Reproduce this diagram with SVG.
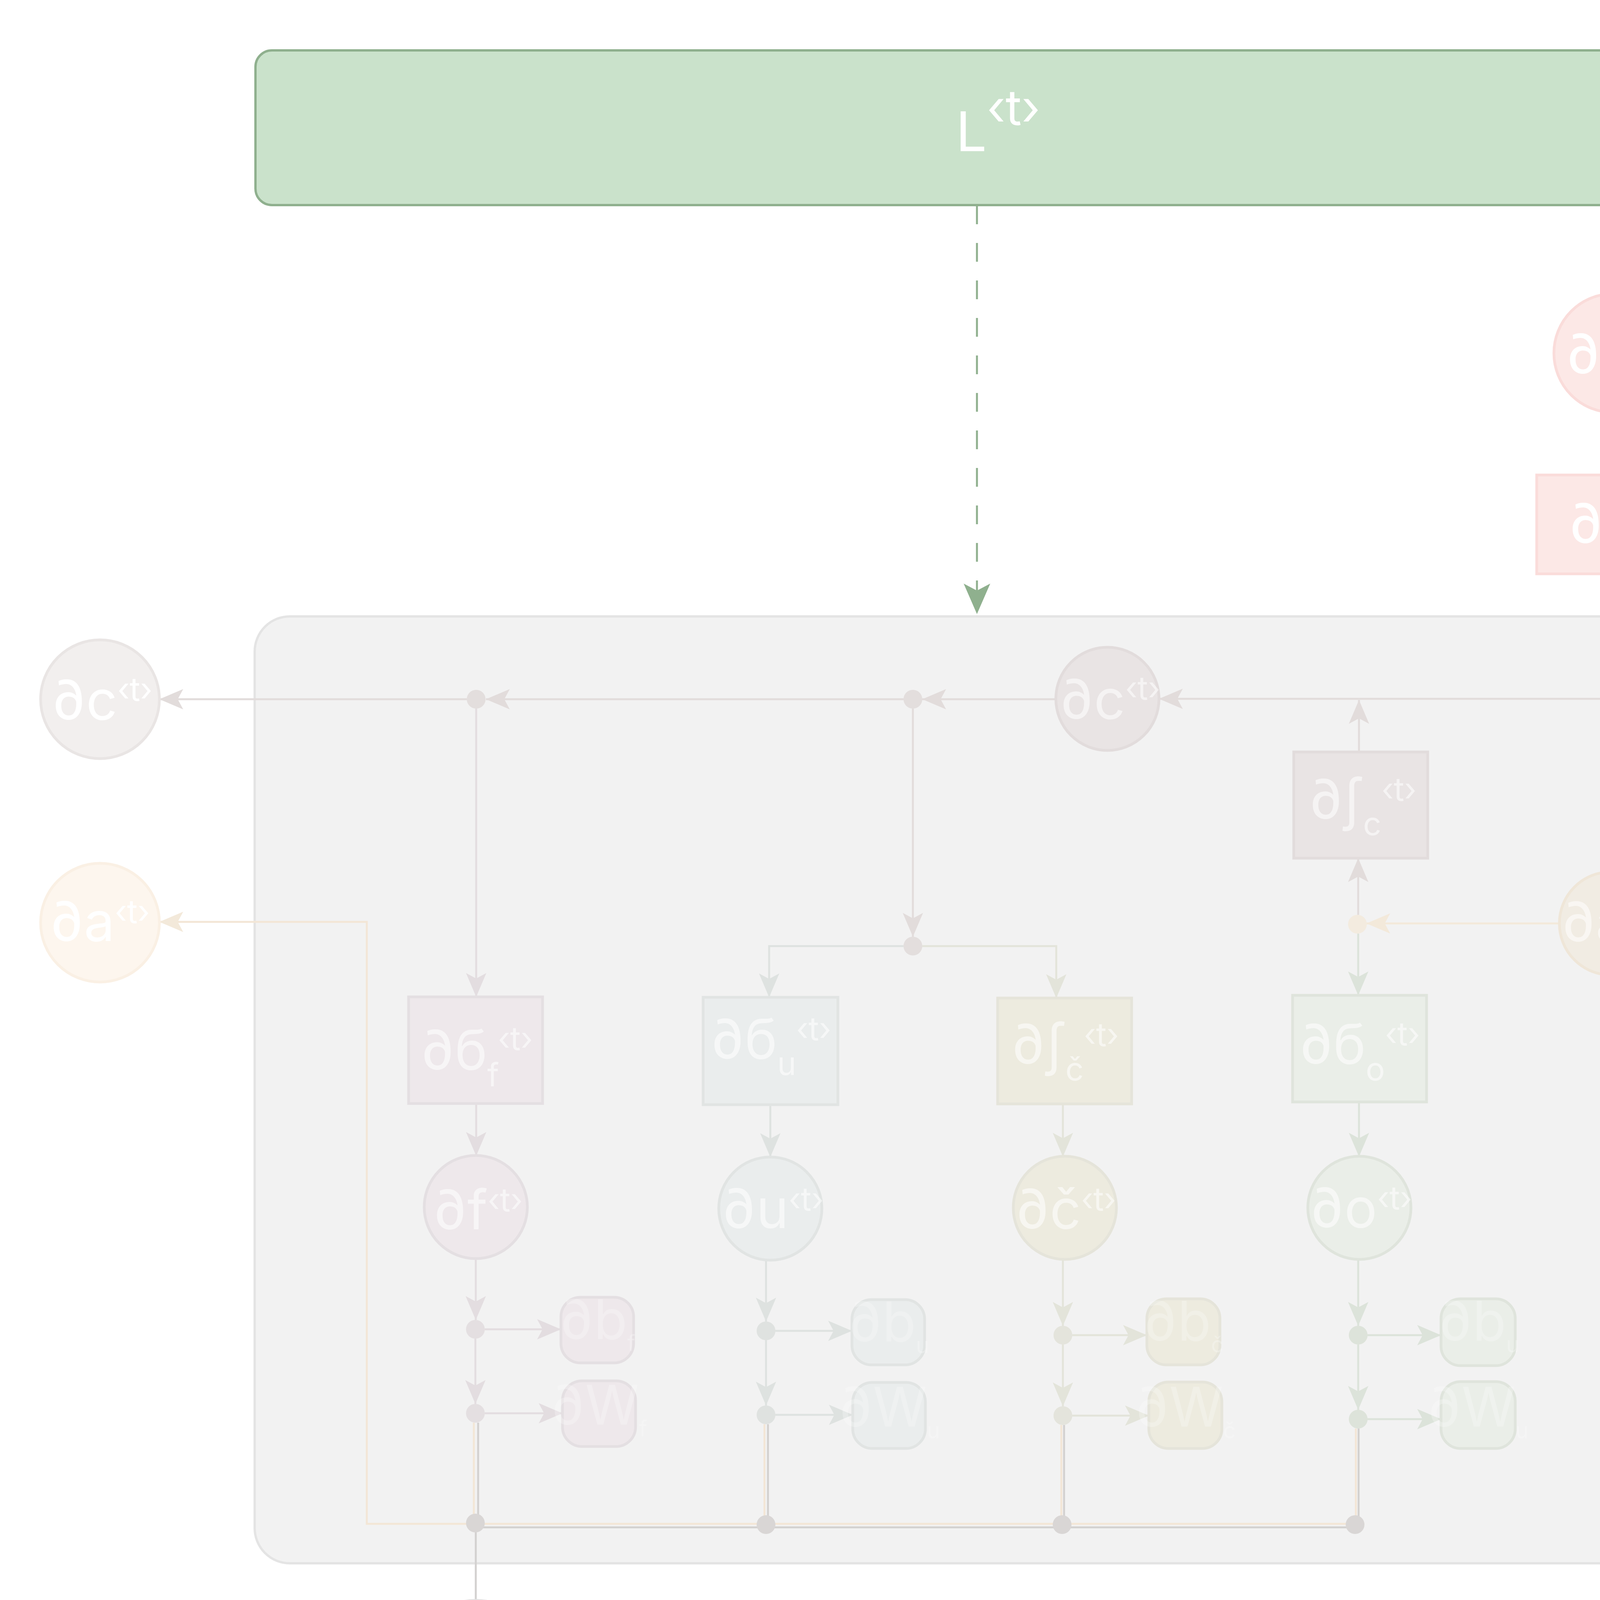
<svg xmlns="http://www.w3.org/2000/svg" width="5401" height="4501" viewBox="0 0 5401 4501">
<style>
.t{font-family:Inter,"Noto Sans","DejaVu Sans",sans-serif;font-size:140px;text-anchor:middle}
.w{fill:#ffffff}
.fi{fill:#ffffff;fill-opacity:.55}
.fs{fill:#ffffff;fill-opacity:.25}
.ln{fill:none;stroke-width:5}
.sup{font-size:82px}
.ss{font-size:56px}
.nd{stroke-width:7}
</style>
<defs>
<marker id="mL" markerUnits="userSpaceOnUse" viewBox="-80 -36 82 72" refX="0" refY="0" markerWidth="82" markerHeight="72" orient="auto"><path d="M0,0 L-78,-34 L-60,0 L-78,34 Z" fill="#8fb08e"/></marker>
<marker id="mC" markerUnits="userSpaceOnUse" viewBox="-64 -28 66 56" refX="0" refY="0" markerWidth="66" markerHeight="56" orient="auto"><path d="M0,0 L-61,-26 L-47,0 L-61,26 Z" fill="#e2dcdb"/></marker>
<marker id="mO" markerUnits="userSpaceOnUse" viewBox="-64 -28 66 56" refX="0" refY="0" markerWidth="66" markerHeight="56" orient="auto"><path d="M0,0 L-61,-26 L-47,0 L-61,26 Z" fill="#f3e9da"/></marker>
<marker id="mP" markerUnits="userSpaceOnUse" viewBox="-64 -28 66 56" refX="0" refY="0" markerWidth="66" markerHeight="56" orient="auto"><path d="M0,0 L-61,-26 L-47,0 L-61,26 Z" fill="#fadcda"/></marker>
<marker id="mF" markerUnits="userSpaceOnUse" viewBox="-64 -28 66 56" refX="0" refY="0" markerWidth="66" markerHeight="56" orient="auto"><path d="M0,0 L-61,-26 L-47,0 L-61,26 Z" fill="#e3dde0"/></marker>
<marker id="mU" markerUnits="userSpaceOnUse" viewBox="-64 -28 66 56" refX="0" refY="0" markerWidth="66" markerHeight="56" orient="auto"><path d="M0,0 L-61,-26 L-47,0 L-61,26 Z" fill="#dee2e0"/></marker>
<marker id="mK" markerUnits="userSpaceOnUse" viewBox="-64 -28 66 56" refX="0" refY="0" markerWidth="66" markerHeight="56" orient="auto"><path d="M0,0 L-61,-26 L-47,0 L-61,26 Z" fill="#e3e4da"/></marker>
<marker id="mG" markerUnits="userSpaceOnUse" viewBox="-64 -28 66 56" refX="0" refY="0" markerWidth="66" markerHeight="56" orient="auto"><path d="M0,0 L-61,-26 L-47,0 L-61,26 Z" fill="#dce3da"/></marker>
</defs>
<rect width="5401" height="4501" fill="#ffffff"/>
<g id="cell">
<rect x="652" y="1578" width="3772" height="2424" rx="90" fill="#f2f2f2" stroke="#e4e4e4" stroke-width="6"/>
</g>
<g id="connectors">
<path d="M2501,526 V1572" fill="none" stroke="#8fb08e" stroke-width="5" stroke-dasharray="48 48" marker-end="url(#mL)"/>
<path class="ln" stroke="#fadcda" d="M4130,1057 V1216" marker-end="url(#mP)"/>
<path class="ln" stroke="#f5ebdd" d="M4127,1469 V2231" marker-end="url(#mO)"/>
<path class="ln" stroke="#e2dcdb" d="M4912,1789 H2967" marker-end="url(#mC)"/>
<path class="ln" stroke="#e2dcdb" d="M3479,1925 V1792" marker-end="url(#mC)"/>
<path class="ln" stroke="#e2dcdb" d="M2703,1790 H2361" marker-end="url(#mC)"/>
<path class="ln" stroke="#e2dcdb" d="M2313,1790 H1244" marker-end="url(#mC)"/>
<path class="ln" stroke="#e2dcdb" d="M1195,1790 H408" marker-end="url(#mC)"/>
<path class="ln" stroke="#e3dde0" d="M1219,1814 V2552" marker-end="url(#mF)"/>
<path class="ln" stroke="#e2dcdb" d="M2337,1814 V2398" marker-end="url(#mC)"/>
<path class="ln" stroke="#dee2e0" d="M2313,2422 H1969 V2553" marker-end="url(#mU)"/>
<path class="ln" stroke="#e3e4da" d="M2361,2422 H2704 V2555" marker-end="url(#mK)"/>
<path class="ln" stroke="#f3e9da" d="M4912,2364 H4256" marker-end="url(#mO)"/>
<path class="ln" stroke="#f3e9da" d="M3991,2364 H3498" marker-end="url(#mO)"/>
<path class="ln" stroke="#e2dcdb" d="M3477,2342 V2197" marker-end="url(#mC)"/>
<path class="ln" stroke="#dce3da" d="M3477,2390 V2548" marker-end="url(#mG)"/>
<path class="ln" stroke="#e3dde0" d="M1219,2825 V2959" marker-end="url(#mF)"/>
<path class="ln" stroke="#dee2e0" d="M1972,2828 V2962" marker-end="url(#mU)"/>
<path class="ln" stroke="#e3e4da" d="M2721,2826 V2961" marker-end="url(#mK)"/>
<path class="ln" stroke="#dce3da" d="M3479,2821 V2961" marker-end="url(#mG)"/>
<path class="ln" stroke="#e3dde0" d="M1218,3211 V3379" marker-end="url(#mF)"/>
<path class="ln" stroke="#e3dde0" d="M1217,3427 V3594" marker-end="url(#mF)"/>
<path class="ln" stroke="#e3dde0" d="M1241,3403 H1436" marker-end="url(#mF)"/>
<path class="ln" stroke="#e3dde0" d="M1241,3618 H1440" marker-end="url(#mF)"/>
<path class="ln" stroke="#dee2e0" d="M1961,3215 V3383" marker-end="url(#mU)"/>
<path class="ln" stroke="#dee2e0" d="M1961,3431 V3598" marker-end="url(#mU)"/>
<path class="ln" stroke="#dee2e0" d="M1985,3407 H2181" marker-end="url(#mU)"/>
<path class="ln" stroke="#dee2e0" d="M1985,3622 H2183" marker-end="url(#mU)"/>
<path class="ln" stroke="#e3e4da" d="M2721,3224 V3394" marker-end="url(#mK)"/>
<path class="ln" stroke="#e3e4da" d="M2721,3442 V3600" marker-end="url(#mK)"/>
<path class="ln" stroke="#e3e4da" d="M2745,3418 H2936" marker-end="url(#mK)"/>
<path class="ln" stroke="#e3e4da" d="M2745,3624 H2941" marker-end="url(#mK)"/>
<path class="ln" stroke="#dce3da" d="M3477,3224 V3394" marker-end="url(#mG)"/>
<path class="ln" stroke="#dce3da" d="M3477,3442 V3609" marker-end="url(#mG)"/>
<path class="ln" stroke="#dce3da" d="M3501,3418 H3689" marker-end="url(#mG)"/>
<path class="ln" stroke="#dce3da" d="M3501,3633 H3689" marker-end="url(#mG)"/>
<path class="ln" stroke="#f3e6d6" d="M1213,3642 V3901 M1957,3646 V3901 M2717,3648 V3901 M3471,3657 V3901"/>
<path class="ln" stroke="#f3e6d6" d="M3493,3901 H939 V2360 H408" marker-end="url(#mO)"/>
<path class="ln" stroke="#d3d1d0" d="M1224,3642 V3899 M1966,3646 V3903 M2724,3648 V3903 M3478,3657 V3903 M1217,3910 H3478 M1218,4097 V3883"/>
</g>
<g id="dots">
<circle cx="2337" cy="1790" r="24" fill="#e3dedd"/>
<circle cx="1219" cy="1790" r="24" fill="#e3dedd"/>
<circle cx="2337" cy="2422" r="24" fill="#e3dedd"/>
<circle cx="3475" cy="2366" r="24" fill="#f3ebdf"/>
<circle cx="1217" cy="3403" r="24" fill="#e4dfe1"/>
<circle cx="1217" cy="3618" r="24" fill="#e4dfe1"/>
<circle cx="1961" cy="3407" r="24" fill="#dfe2e0"/>
<circle cx="1961" cy="3622" r="24" fill="#dfe2e0"/>
<circle cx="2721" cy="3418" r="24" fill="#e4e4dc"/>
<circle cx="2721" cy="3624" r="24" fill="#e4e4dc"/>
<circle cx="3477" cy="3418" r="24" fill="#dde3da"/>
<circle cx="3477" cy="3633" r="24" fill="#dde3da"/>
<circle cx="1217" cy="3899" r="24" fill="#d9d6d5"/>
<circle cx="1961" cy="3903" r="24" fill="#d9d6d5"/>
<circle cx="2719" cy="3903" r="24" fill="#d9d6d5"/>
<circle cx="3469" cy="3903" r="24" fill="#d9d6d5"/>
</g>
<g id="L">
<rect x="654" y="129" width="3769" height="396" rx="42" fill="#cae2cb" stroke="#8fb08e" stroke-width="6"/>
<text class="t w" x="2555" y="387" font-size="220">L<tspan font-size="125" dy="-67">‹t›</tspan></text>
</g>
<g id="dyhat">
<circle class="nd" cx="4130" cy="904" r="152" fill="#fce8e6" stroke="#fadcda"/>
<text class="t w" x="4137" y="956">∂ŷ<tspan class="sup" dy="-48">‹t›</tspan></text>
</g>
<g id="dz">
<rect class="nd" x="3934" y="1216" width="389" height="253" fill="#fce8e6" stroke="#fadcda"/>
<text class="t w" x="4143" y="1390">∂z<tspan class="sup" dy="-48">‹t›</tspan></text>
</g>
<g id="dc_out">
<circle class="nd" cx="256" cy="1790" r="152" fill="#f2efee" stroke="#e9e5e4"/>
<text class="t w" x="261" y="1842">∂c<tspan class="sup" dy="-48">‹t›</tspan></text>
</g>
<g id="da_out">
<circle class="nd" cx="256" cy="2362" r="152" fill="#fdf6ee" stroke="#faf0e4"/>
<text class="t w" x="255" y="2409">∂a<tspan class="sup" dy="-46">‹t›</tspan></text>
</g>
<g id="dc_next">
<circle class="nd" cx="5065" cy="1789" r="152" fill="#f2efee" stroke="#e9e5e4"/>
<text class="t w" x="5063" y="1835">∂c<tspan class="sup" dy="-48">t+1</tspan></text>
</g>
<g id="da_next">
<circle class="nd" cx="5065" cy="2364" r="152" fill="#fdf6ee" stroke="#faf0e4"/>
<text class="t w" x="5063" y="2410">∂a<tspan class="sup" dy="-48">t+1</tspan></text>
</g>
<g id="x">
<circle class="nd" cx="1218" cy="4273" r="176" fill="#e8e8e8" stroke="#e2e2e2"/>
<text class="t w" x="1222" y="4313" font-size="152">x<tspan font-size="85" dy="-48">‹t›</tspan></text>
</g>
<g id="dc_in">
<circle class="nd" cx="2835" cy="1789" r="132" fill="#e9e4e4" stroke="#e2dcdc"/>
<text class="t fi" x="2841" y="1840">∂c<tspan class="sup" dy="-49">‹t›</tspan></text>
</g>
<g id="da_in">
<circle class="nd" cx="4124" cy="2364" r="132" fill="#f1ece3" stroke="#efe6d8"/>
<text class="t fi" x="4125" y="2410">∂a<tspan class="sup" dy="-49">‹t›</tspan></text>
</g>
<g id="dtanh_c">
<rect class="nd" x="3312" y="1925" width="343" height="272" fill="#e9e4e4" stroke="#e2dcdc"/>
<text class="t fi" x="3488" y="2096">∂ʃ<tspan class="sup" dy="42">c</tspan><tspan class="sup" dy="-88">‹t›</tspan></text>
</g>
<g id="dsig_f">
<rect class="nd" x="1046" y="2552" width="343" height="273" fill="#eee8eb" stroke="#e4dfe2"/>
<text class="t fi" x="1220" y="2738">∂б<tspan class="sup" dy="43">f</tspan><tspan class="sup" dy="-93">‹t›</tspan></text>
</g>
<g id="dsig_u">
<rect class="nd" x="1800" y="2553" width="345" height="275" fill="#eaeded" stroke="#e1e4e3"/>
<text class="t fi" x="1973" y="2710">∂б<tspan class="sup" dy="42">u</tspan><tspan class="sup" dy="-89">‹t›</tspan></text>
</g>
<g id="dtanh_ct">
<rect class="nd" x="2554" y="2555" width="343" height="271" fill="#edebdf" stroke="#e5e4da"/>
<text class="t fi" x="2726" y="2723">∂ʃ<tspan class="sup" dy="43">č</tspan><tspan class="sup" dy="-88">‹t›</tspan></text>
</g>
<g id="dsig_o">
<rect class="nd" x="3309" y="2548" width="343" height="273" fill="#eaeee8" stroke="#dfe4dc"/>
<text class="t fi" x="3480" y="2723">∂б<tspan class="sup" dy="43">o</tspan><tspan class="sup" dy="-90">‹t›</tspan></text>
</g>
<g id="df">
<circle class="nd" cx="1218" cy="3090" r="132" fill="#eee8eb" stroke="#e4dfe2"/>
<text class="t fi" x="1223" y="3147">∂f<tspan class="sup" dy="-46">‹t›</tspan></text>
</g>
<g id="du">
<circle class="nd" cx="1972" cy="3094" r="132" fill="#eaeded" stroke="#e1e4e3"/>
<text class="t fi" x="1978" y="3144">∂u<tspan class="sup" dy="-45">‹t›</tspan></text>
</g>
<g id="dct">
<circle class="nd" cx="2726" cy="3092" r="132" fill="#edebdf" stroke="#e5e4da"/>
<text class="t fi" x="2728" y="3145">∂č<tspan class="sup" dy="-46">‹t›</tspan></text>
</g>
<g id="do">
<circle class="nd" cx="3480" cy="3092" r="132" fill="#eaeee8" stroke="#dfe4dc"/>
<text class="t fi" x="3484" y="3142">∂o<tspan class="sup" dy="-46">‹t›</tspan></text>
</g>
<g id="dbf">
<rect class="nd" x="1436" y="3321" width="186" height="168" rx="50" fill="#eee8eb" stroke="#e4dfe2"/>
<text class="t fs" x="1529" y="3428" font-size="100">∂b<tspan class="ss" dy="30">f</tspan></text>
</g>
<g id="dWf">
<rect class="nd" x="1440" y="3535" width="187" height="168" rx="50" fill="#eee8eb" stroke="#e4dfe2"/>
<text class="t fs" x="1533" y="3647" font-size="100">∂W<tspan class="ss" dy="30">f</tspan></text>
</g>
<g id="dbu">
<rect class="nd" x="2181" y="3327" width="186" height="167" rx="50" fill="#eaeded" stroke="#e1e4e3"/>
<text class="t fs" x="2274" y="3434" font-size="100">∂b<tspan class="ss" dy="30">u</tspan></text>
</g>
<g id="dWu">
<rect class="nd" x="2183" y="3539" width="186" height="169" rx="50" fill="#eaeded" stroke="#e1e4e3"/>
<text class="t fs" x="2276" y="3652" font-size="100">∂W<tspan class="ss" dy="30">u</tspan></text>
</g>
<g id="dbc">
<rect class="nd" x="2936" y="3325" width="187" height="169" rx="50" fill="#edebdf" stroke="#e5e4da"/>
<text class="t fs" x="3029" y="3432" font-size="100">∂b<tspan class="ss" dy="30">č</tspan></text>
</g>
<g id="dWc">
<rect class="nd" x="2941" y="3538" width="187" height="170" rx="50" fill="#edebdf" stroke="#e5e4da"/>
<text class="t fs" x="3034" y="3652" font-size="100">∂W<tspan class="ss" dy="30">č</tspan></text>
</g>
<g id="dbo">
<rect class="nd" x="3689" y="3325" width="190" height="171" rx="50" fill="#eaeee8" stroke="#dfe4dc"/>
<text class="t fs" x="3785" y="3432" font-size="100">∂b<tspan class="ss" dy="30">u</tspan></text>
</g>
<g id="dWo">
<rect class="nd" x="3689" y="3537" width="190" height="171" rx="50" fill="#eaeee8" stroke="#dfe4dc"/>
<text class="t fs" x="3783" y="3652" font-size="100">∂W<tspan class="ss" dy="30">u</tspan></text>
</g>
</svg>
